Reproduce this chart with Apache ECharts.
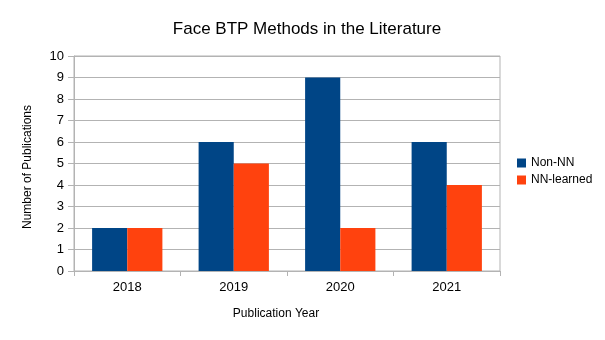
<!DOCTYPE html>
<html><head><meta charset="utf-8">
<script src="https://cdn.jsdelivr.net/npm/echarts@6/dist/echarts.min.js"></script>
<style>html,body{margin:0;padding:0;background:#fff}#c{width:605px;height:340px}</style>
</head><body><div id="c"></div>
<script>
var categories = ['2018', '2019', '2020', '2021'];
var nonNN = [2, 6, 9, 6];
var nnLearned = [2, 5, 2, 4];
var yTicks = [0, 10, 1];

var chart = echarts.init(document.getElementById('c'), null, {renderer: 'canvas'});
var font = 'Liberation Sans';
chart.setOption({
  animation: false,
  backgroundColor: '#ffffff',
  title: {text: 'Face BTP Methods in the Literature', left: 302, top: 16, textAlign: 'center',
    textStyle: {fontFamily: font, fontSize: 17, fontWeight: 'normal', color: '#000'}},
  legend: {
    orient: 'vertical', left: 512, top: 152, itemWidth: 9, itemHeight: 9, itemGap: 5,
    icon: 'rect',
    textStyle: {fontFamily: font, fontSize: 12, color: '#000'},
    data: ['Non-NN', 'NN-learned']
  },
  grid: {left: 74, right: 105, top: 56, bottom: 69, show: true, borderColor: '#b3b3b3', borderWidth: 1, backgroundColor: 'transparent'},
  xAxis: {
    type: 'category', data: categories,
    name: 'Publication Year', nameLocation: 'middle', nameGap: 37,
    nameTextStyle: {fontFamily: font, fontSize: 12, color: '#000', padding: [0, 22, 0, 0]},
    axisLine: {lineStyle: {color: '#b3b3b3'}},
    axisTick: {show: true, length: 5, lineStyle: {color: '#b3b3b3'}},
    axisLabel: {fontFamily: font, fontSize: 13, color: '#000', margin: 10}
  },
  yAxis: {
    type: 'value', min: yTicks[0], max: yTicks[1], interval: yTicks[2],
    name: 'Number of Publications', nameLocation: 'middle', nameGap: 40, nameRotate: 90,
    nameTextStyle: {fontFamily: font, fontSize: 12, color: '#000', padding: [0, 7, 0, 0]},
    axisLine: {show: true, lineStyle: {color: '#b3b3b3'}},
    axisTick: {show: true, length: 6, lineStyle: {color: '#b3b3b3'}},
    splitLine: {lineStyle: {color: '#b3b3b3'}},
    axisLabel: {fontFamily: font, fontSize: 13, color: '#000', margin: 10}
  },
  series: [
    {name: 'Non-NN', type: 'bar', data: nonNN, barGap: '0%', barCategoryGap: '34%', itemStyle: {color: '#004586'}},
    {name: 'NN-learned', type: 'bar', data: nnLearned, itemStyle: {color: '#ff420e'}}
  ]
});
</script></body></html>
